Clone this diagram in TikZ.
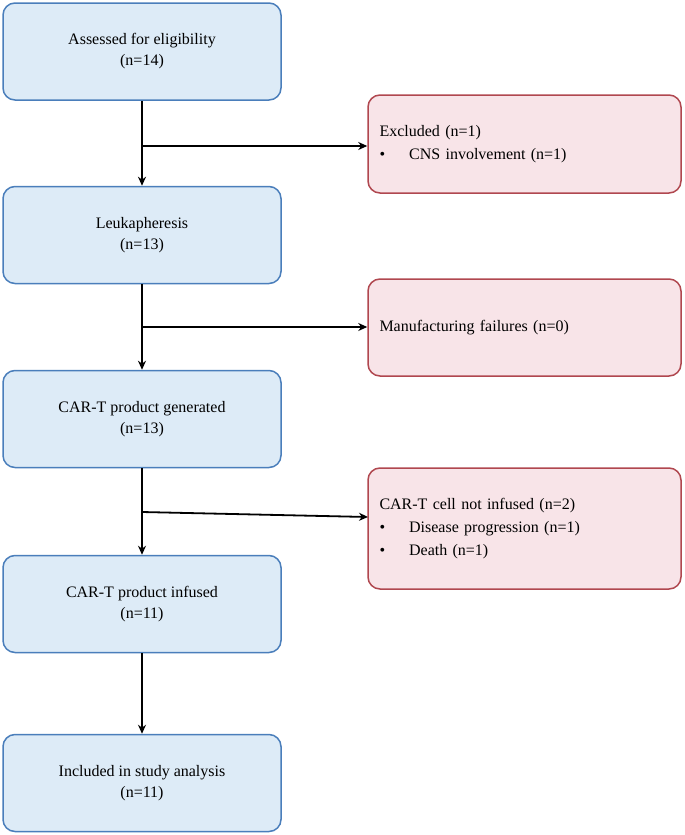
\documentclass[tikz,border=0pt]{standalone}
\usepackage{fontspec}
\setmainfont{Liberation Serif}
\usetikzlibrary{arrows.meta}
\definecolor{bfill}{HTML}{DDEBF7}
\definecolor{bline}{HTML}{4A7EBB}
\definecolor{rfill}{HTML}{F8E4E8}
\definecolor{rline}{HTML}{B0474F}
\begin{document}
\begin{tikzpicture}[x=1pt,y=-1pt,
  lbox/.style={draw=bline,fill=bfill,line width=1.5pt,rounded corners=12pt,minimum width=278pt,minimum height=97pt,align=center,font=\fontsize{16}{21}\selectfont},
  rbox/.style={draw=rline,fill=rfill,line width=1.5pt,rounded corners=12pt,minimum width=313pt,align=left,font=\fontsize{16}{21}\selectfont,text width=290pt,inner sep=0pt},
  arr/.style={line width=1.8pt,-{Stealth[length=9pt,width=8pt]}}]
\useasboundingbox (0,0) rectangle (685,835);
\node[lbox] (a) at (142,51.5) {Assessed for eligibility\\(n=14)};
\node[lbox] (b) at (142,235) {Leukapheresis\\(n=13)};
\node[lbox] (c) at (142,419) {CAR-T product generated\\(n=13)};
\node[lbox] (d) at (142,604) {CAR-T product infused\\(n=11)};
\node[lbox] (e) at (142,783) {Included in study analysis\\(n=11)};
\node[rbox,minimum height=98pt] (r1) at (524.5,144) {Excluded (n=1)\\[2pt]\textbullet\hspace{24pt}CNS involvement (n=1)};
\node[rbox,minimum height=97pt] (r2) at (524.5,327.5) {Manufacturing failures (n=0)};
\node[rbox,minimum height=121pt] (r3) at (524.5,528.5) {CAR-T cell not infused (n=2)\\[2pt]\textbullet\hspace{24pt}Disease progression (n=1)\\[2pt]\textbullet\hspace{24pt}Death (n=1)};
\draw[arr] (a) -- (b);
\draw[arr] (b) -- (c);
\draw[arr] (c) -- (d);
\draw[arr] (d) -- (e);
\coordinate (j1) at (142,146);
\coordinate (j2) at (142,327);
\coordinate (j3) at (142,512);
\draw[arr] (j1) -- (r1.west |- j1);
\draw[arr] (j2) -- (r2.west |- j2);
\draw[arr] (j3) -- (368,517);
\end{tikzpicture}
\end{document}
